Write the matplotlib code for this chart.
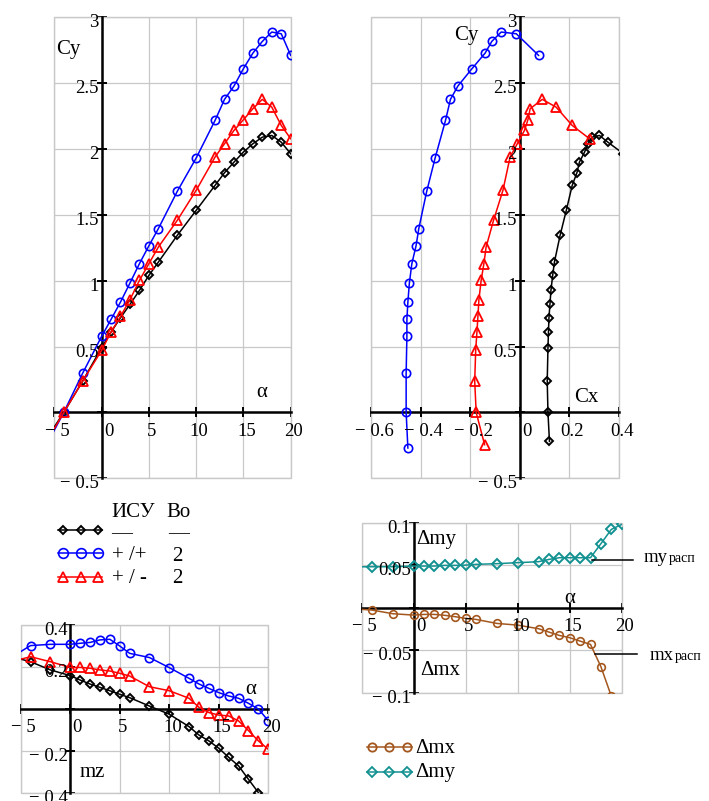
import matplotlib
matplotlib.use('Agg')
import matplotlib.pyplot as plt
from matplotlib.lines import Line2D
from matplotlib.patches import Rectangle

# 0. Data
alpha = [-6, -4, -2, 0, 1, 2, 3, 4, 5, 6, 8, 10, 12, 13, 14, 15, 16, 17, 18, 19, 20]

# Cy(alpha)
cy_isu = [-0.22, 0.0, 0.238, 0.491, 0.61, 0.719, 0.82, 0.926, 1.04, 1.141, 1.344,
          1.534, 1.724, 1.82, 1.90, 1.977, 2.04, 2.09, 2.103, 2.052, 1.964]
cy_pp = [-0.27, 0.0, 0.298, 0.577, 0.706, 0.838, 0.982, 1.129, 1.265, 1.395, 1.678,
         1.931, 2.217, 2.377, 2.478, 2.61, 2.728, 2.817, 2.888, 2.875, 2.711]
cy_pm = [-0.245, 0.0, 0.238, 0.471, 0.61, 0.729, 0.856, 1.002, 1.129, 1.255, 1.458,
         1.686, 1.939, 2.04, 2.141, 2.222, 2.306, 2.377, 2.318, 2.179, 2.078]

# Cx(alpha)
cx_isu = [0.121, 0.115, 0.112, 0.115, 0.117, 0.119, 0.123, 0.127, 0.134, 0.141, 0.164,
          0.189, 0.213, 0.232, 0.242, 0.263, 0.276, 0.293, 0.323, 0.357, 0.42]
cx_pp = [-0.451, -0.458, -0.458, -0.455, -0.455, -0.451, -0.445, -0.435, -0.418, -0.407, -0.375,
         -0.341, -0.299, -0.279, -0.249, -0.192, -0.139, -0.112, -0.074, -0.013, 0.077]
cx_pm = [-0.141, -0.175, -0.181, -0.177, -0.172, -0.168, -0.164, -0.155, -0.144, -0.135, -0.105,
         -0.067, -0.038, -0.009, 0.02, 0.034, 0.043, 0.092, 0.148, 0.213, 0.283]

# mz(alpha)
mz_isu = [0.25, 0.225, 0.186, 0.159, 0.138, 0.119, 0.103, 0.087, 0.07, 0.054, 0.014,
          -0.025, -0.084, -0.124, -0.152, -0.187, -0.23, -0.271, -0.335, -0.398, -0.46]
mz_pp = [0.245, 0.302, 0.308, 0.308, 0.313, 0.317, 0.329, 0.332, 0.3, 0.265, 0.245,
         0.197, 0.146, 0.119, 0.098, 0.078, 0.062, 0.051, 0.027, 0.0, -0.056]
mz_pm = [0.225, 0.249, 0.225, 0.198, 0.198, 0.194, 0.186, 0.181, 0.17, 0.157, 0.106,
         0.087, 0.051, 0.008, -0.017, -0.029, -0.033, -0.057, -0.103, -0.152, -0.192]

# delta mx / delta my
d_mx = [-0.001, -0.0028, -0.0071, -0.0087, -0.0079, -0.0079, -0.009, -0.0106, -0.0126, -0.0138, -0.0185,
        -0.0205, -0.0247, -0.0287, -0.0326, -0.0353, -0.0393, -0.0432, -0.0694, -0.104, -0.14]
d_my = [0.048, 0.0482, 0.0482, 0.049, 0.049, 0.049, 0.0498, 0.0498, 0.0501, 0.051, 0.0518,
        0.053, 0.0541, 0.0568, 0.0588, 0.0588, 0.0588, 0.0588, 0.0753, 0.0921, 0.098]

# 1. Style
plt.rcParams['font.family'] = ['Liberation Serif', 'DejaVu Serif']
FS_TICK = 13.5
FS_LAB = 15
C_GRID = '#c8c8c8'
C_BROWN = '#a3561d'
C_TEAL = '#139190'

W, H = 709, 801


def fx(x):
    return x / W


def fy(y):
    return 1 - y / H


def neg(v):
    """Mathcad-like tick text: '− 0.5' with a spaced minus"""
    s = f'{abs(v):g}'
    return '\u2212 ' + s if v < 0 else s


def mathcad_axes(ax, xlim, ylim, xticks, yticks):
    ax.set_xlim(xlim)
    ax.set_ylim(ylim)
    ax.set_xticks(xticks)
    ax.set_yticks(yticks)
    ax.set_xticklabels([])
    ax.set_yticklabels([])
    ax.grid(True, color=C_GRID, linewidth=0.9)
    ax.set_axisbelow(True)
    ax.add_patch(Rectangle((0, 0), 1, 1, transform=ax.transAxes, fill=False,
                           edgecolor=C_GRID, linewidth=1.0, zorder=0.6, clip_on=False))
    for s in ['top', 'right']:
        ax.spines[s].set_visible(False)
    for s in ['left', 'bottom']:
        ax.spines[s].set_position(('data', 0))
        ax.spines[s].set_linewidth(1.8)
        ax.spines[s].set_zorder(1)
    ax.tick_params(direction='inout', length=7, width=1.4, colors='k')
    for x in xticks:
        dx = 5.0 if x == 0 else 2.2
        ax.annotate(neg(x), (x, 0), xytext=(dx, -7.5), textcoords='offset points',
                    ha='center', va='top', fontsize=FS_TICK, annotation_clip=False)
    for y in yticks:
        if y == 0:
            continue
        ax.annotate(neg(y), (0, y), xytext=(-2, -4), textcoords='offset points',
                    ha='right', va='center', fontsize=FS_TICK, annotation_clip=False)


isu_kw = dict(color='k', marker='D', markersize=4.2, markerfacecolor='none',
              markeredgewidth=1.4, linewidth=1.1)
pp_kw = dict(color='#0000ff', marker='o', markersize=6, markerfacecolor='none',
             markeredgewidth=1.2, linewidth=1.1)
pm_kw = dict(color='#ff0000', marker='^', markersize=7, markerfacecolor='none',
             markeredgewidth=1.3, linewidth=1.1)

fig = plt.figure(figsize=(W / 100, H / 100), dpi=100)

# 2. Cy(alpha)
ax1 = fig.add_axes([fx(54.3), fy(478.3), 236.4 / W, 461 / H])
mathcad_axes(ax1, (-5, 20), (-0.5, 3), [-5, 0, 5, 10, 15, 20],
             [-0.5, 0, 0.5, 1, 1.5, 2, 2.5, 3])
ax1.plot(alpha, cy_isu, **isu_kw)
ax1.plot(alpha, cy_pp, **pp_kw)
ax1.plot(alpha, cy_pm, **pm_kw)
ax1.text(-4.85, 2.72, 'Cy', fontsize=FS_LAB, va='baseline')
ax1.text(16.4, 0.114, '\u03b1', fontsize=FS_LAB, va='baseline')

# 3. Cy(Cx)
ax2 = fig.add_axes([fx(371), fy(478.3), 247.5 / W, 461 / H])
mathcad_axes(ax2, (-0.6, 0.4), (-0.5, 3), [-0.6, -0.4, -0.2, 0, 0.2, 0.4],
             [-0.5, 0, 0.5, 1, 1.5, 2, 2.5, 3])
ax2.plot(cx_isu, cy_isu, **isu_kw)
ax2.plot(cx_pp, cy_pp, **pp_kw)
ax2.plot(cx_pm, cy_pm, **pm_kw)
ax2.text(-0.265, 2.83, 'Cy', fontsize=FS_LAB, va='baseline')
ax2.text(0.22, 0.078, 'Cx', fontsize=FS_LAB, va='baseline')

# 4. mz(alpha)
ax3 = fig.add_axes([fx(20.7), fy(793), 247.6 / W, 168 / H])
mathcad_axes(ax3, (-5, 20), (-0.4, 0.4), [-5, 0, 5, 10, 15, 20],
             [-0.4, -0.2, 0, 0.2, 0.4])
ax3.plot(alpha, mz_isu, **isu_kw)
ax3.plot(alpha, mz_pp, **pp_kw)
ax3.plot(alpha, mz_pm, **pm_kw)
ax3.text(17.66, 0.07, '\u03b1', fontsize=FS_LAB, va='baseline')
ax3.text(0.92, -0.322, 'mz', fontsize=FS_LAB, va='baseline')

# 5. delta mx, delta my
ax4 = fig.add_axes([fx(361.7), fy(692.7), 260 / W, 170 / H])
mathcad_axes(ax4, (-5, 20), (-0.1, 0.1), [-5, 0, 5, 10, 15, 20],
             [-0.1, -0.05, 0, 0.05, 0.1])
ax4.plot(alpha, d_mx, color=C_BROWN, marker='o', markersize=5.5, markerfacecolor='none',
         markeredgewidth=1.2, linewidth=1.1)
ax4.plot(alpha, d_my, color=C_TEAL, marker='D', markersize=5, markerfacecolor='none',
         markeredgewidth=1.4, linewidth=1.1)
ax4.text(0.22, 0.0745, '\u0394my', fontsize=FS_LAB, va='baseline')
ax4.text(0.6, -0.0793, '\u0394mx', fontsize=FS_LAB, va='baseline')
ax4.text(14.45, 0.005, '\u03b1', fontsize=FS_LAB, va='baseline')
# callouts to the separation points
ax4.plot([17.1, 21.1], [0.0565, 0.0565], color='k', linewidth=1.1, clip_on=False)
ax4.plot([17.4, 21.44], [-0.055, -0.055], color='k', linewidth=1.1, clip_on=False)
t_my = fig.text(fx(643.3), fy(561.7), 'my', fontsize=13.5, va='baseline')
fig.text(fx(669.3), fy(561.7), 'расп', fontsize=10, va='baseline')
t_mx = fig.text(fx(650), fy(660), 'mx', fontsize=13.5, va='baseline')
fig.text(fx(675), fy(660), 'расп', fontsize=10, va='baseline')


# 6. Legends (Mathcad-style tables)
def sample(y, kw, ms=None):
    k = dict(kw)
    if ms is not None:
        k['markersize'] = ms
    fig.add_artist(Line2D([fx(58.3), fx(102.3)], [fy(y), fy(y)], color=k['color'],
                          linewidth=k['linewidth'], transform=fig.transFigure))
    k['linestyle'] = 'none'
    fig.add_artist(Line2D([fx(62.7), fx(80.7), fx(98.3)], [fy(y)] * 3,
                          transform=fig.transFigure, **k))


fig.text(fx(111.7), fy(517.3), 'ИСУ', fontsize=FS_LAB, va='baseline')
fig.text(fx(166), fy(517.3), 'Bo', fontsize=FS_LAB, va='baseline')
sample(530, isu_kw, ms=4.5)
fig.text(fx(110.7), fy(538), '\u2014', fontsize=FS_LAB, va='baseline')
fig.text(fx(167.7), fy(538), '\u2014', fontsize=FS_LAB, va='baseline')
sample(552.7, pp_kw, ms=7)
fig.text(fx(111.7), fy(560), '+ /+', fontsize=FS_LAB, va='baseline')
fig.text(fx(171.7), fy(560.7), '2', fontsize=FS_LAB, va='baseline')
sample(577.3, pm_kw, ms=7.5)
fig.text(fx(111.7), fy(583.3), '+ / -', fontsize=FS_LAB, va='baseline')
fig.text(fx(171.7), fy(583.3), '2', fontsize=FS_LAB, va='baseline')

# bottom legend
for y, col, mk, ms, lab in [(747.3, C_BROWN, 'o', 6, '\u0394mx'),
                            (771.7, C_TEAL, 'D', 5, '\u0394my')]:
    fig.add_artist(Line2D([fx(366.7), fx(411.7)], [fy(y), fy(y)], color=col,
                          linewidth=1.1, transform=fig.transFigure))
    fig.add_artist(Line2D([fx(371.7), fx(389.3), fx(406.7)], [fy(y)] * 3, color=col,
                          linestyle='none', marker=mk, markersize=ms, markerfacecolor='none',
                          markeredgewidth=1.3, transform=fig.transFigure))
    fig.text(fx(415), fy(y + 5.5), lab, fontsize=FS_LAB, va='baseline')

fig.savefig('out.png', dpi=100)
